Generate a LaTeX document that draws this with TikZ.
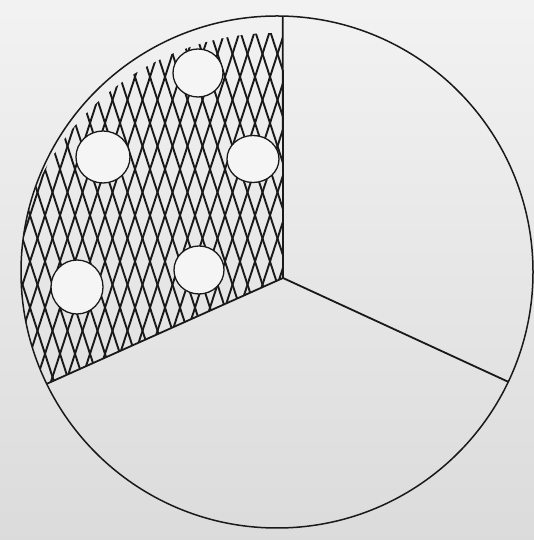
\documentclass[tikz,border=0pt]{standalone}
\usetikzlibrary{shapes.geometric}
\begin{document}
\begin{tikzpicture}[
    x=1pt, y=1pt,
    % Line and fill styles
    rim/.style={draw=black!90, line width=1.5pt},
    spoke/.style={draw=black!90, line width=1.8pt},
    hatch/.style={draw=black!90, line width=1.9pt},
    hole/.style={ellipse, draw=black!90, line width=1.3pt, fill=white!96!black, inner sep=0pt}
]

% 0. Paper background
\shade[top color=black!5, bottom color=black!14] (0,0) rectangle (534,540);
\useasboundingbox (0,0) rectangle (534,540);

% 1. Key points (centre, hub and spoke ends)
\coordinate (c) at (277,268);
\coordinate (hub) at (283,262);
\coordinate (top) at ([shift={(88.7:256)}]c);
\coordinate (ll)  at ([shift={(205.9:256)}]c);
\coordinate (lr)  at ([shift={(-25.4:256)}]c);

% 2. Cross-hatched sector (stops a little short of the rim at the top)
\begin{scope}
  \clip (hub) -- (top) arc[start angle=88.7, end angle=205.9, radius=256] -- cycle;
  \clip (275,245) circle[radius=262];
  \foreach \x in {-150,-135,...,450} {
    \draw[hatch] (\x,140) -- ++(130,400);
    \draw[hatch] (\x,140) -- ++(-130,400);
  }
\end{scope}

% 3. White holes inside the hatched sector
\node[hole, minimum width=50pt, minimum height=48pt] (h1) at (198,467) {};
\node[hole, minimum width=54pt, minimum height=52pt] (h2) at (103,383) {};
\node[hole, minimum width=52pt, minimum height=47pt] (h3) at (253,381) {};
\node[hole, minimum width=52pt, minimum height=54pt] (h4) at (77,253) {};
\node[hole, minimum width=50pt, minimum height=48pt] (h5) at (199,270) {};

% 4. Spokes and outer rim
\draw[spoke] (hub) -- (top);
\draw[spoke] (hub) -- (ll);
\draw[spoke] (hub) -- (lr);
\draw[rim] (c) circle[radius=256];

\end{tikzpicture}
\end{document}
